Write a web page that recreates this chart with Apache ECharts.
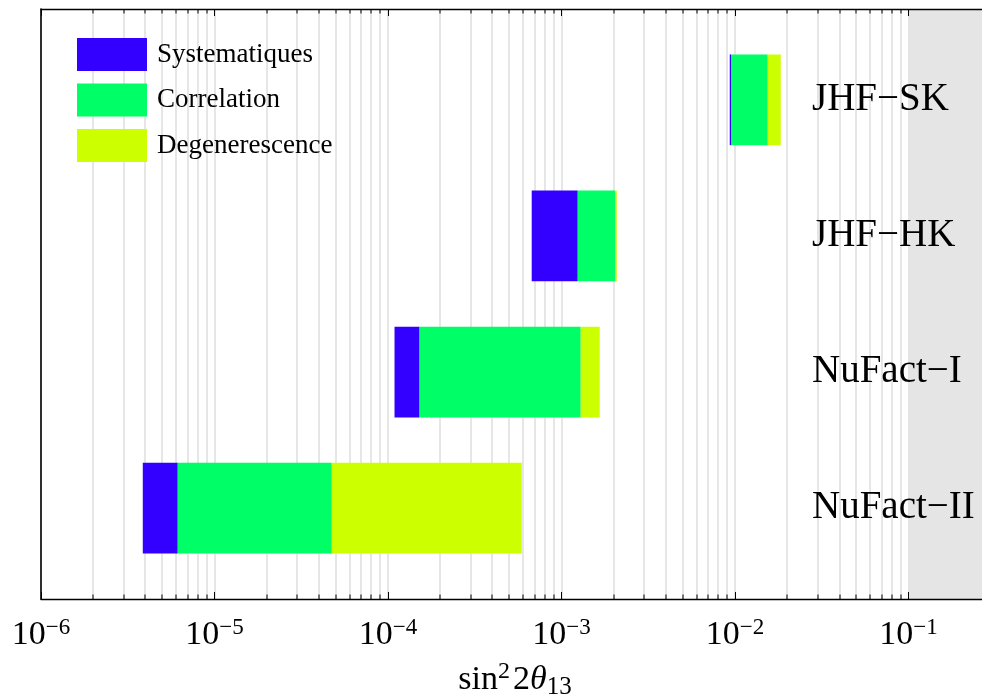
<!DOCTYPE html>
<html>
<head>
<meta charset="utf-8">
<script src="https://cdn.jsdelivr.net/npm/echarts@6/dist/echarts.min.js"></script>
<style>html,body{margin:0;padding:0;background:#fff}#c{width:982px;height:700px}</style>
</head>
<body>
<div id="c"></div>
<script>
// ---- data ----
const experiments = ['NuFact−II', 'NuFact−I', 'JHF−HK', 'JHF−SK'];
const positions = [1, 2, 3, 4];
const barStart = [3.86e-6, 1.09e-4, 6.73e-4, 9.32e-3];
const systEnd  = [6.14e-6, 1.52e-4, 1.24e-3, 9.48e-3];
const corrEnd  = [4.74e-5, 1.29e-3, 2.045e-3, 1.543e-2];
const degenEnd = [5.90e-4, 1.66e-3, 2.08e-3, 1.834e-2];
const seriesNames = ['Systematiques', 'Correlation', 'Degenerescence'];
const seriesColors = ['#3300ff', '#00ff66', '#ccff00'];
const tickExponents = [-6, -5, -4, -3, -2, -1];
const minorMultipliers = [2, 3, 4, 5, 6, 7, 8, 9];
const shadedFrom = [0.1];
const xMin = 1e-6, xMax = 0.265;
const yMin = 1 / 3, yMax = 14 / 3;
const barHeight = 2 / 3;

const FONT = "'Liberation Serif', 'Times New Roman', 'DejaVu Serif', serif";

const gridValues = [];
tickExponents.forEach(e => {
  gridValues.push([Math.pow(10, e), 1]);
  minorMultipliers.forEach(m => { const v = m * Math.pow(10, e); if (v < xMax) gridValues.push([v, 0]); });
});

function seg(a, b) { return positions.map((p, i) => [a[i], b[i], p]); }
const segData = [seg(barStart, systEnd), seg(systEnd, corrEnd), seg(corrEnd, degenEnd)];

function barRender(params, api) {
  const y = api.value(2);
  const p0 = api.coord([api.value(0), y + barHeight / 2]);
  const p1 = api.coord([api.value(1), y - barHeight / 2]);
  return { type: 'rect', shape: { x: p0[0], y: p0[1], width: p1[0] - p0[0], height: p1[1] - p0[1] },
           style: { fill: api.visual('color') } };
}

const chart = echarts.init(document.getElementById('c'));
const xAxisBase = {
  type: 'log', logBase: 10, min: xMin, max: xMax, z: 10,
  axisLine: { show: true, lineStyle: { color: '#000', width: 1.3 } },
  axisTick: { show: true, inside: true, length: 7, lineStyle: { color: '#000', width: 1 } },
  splitLine: { show: false }, minorTick: { show: false }
};
chart.setOption({
  animation: false,
  backgroundColor: '#fff',
  grid: { left: 41, right: 0, top: 9, bottom: 101, outerBoundsMode: 'none', containLabel: false },
  legend: {
    data: seriesNames, orient: 'vertical', left: 77, top: 38, icon: 'rect', padding: 0,
    itemWidth: 70, itemHeight: 33, itemGap: 12.5,
    textStyle: { fontFamily: FONT, fontSize: 27, color: '#000', padding: [0, 0, 0, 5] }
  },
  xAxis: [
    Object.assign({}, xAxisBase, {
      position: 'bottom',
      name: '{a|sin}{s|2}{a|2}{i|θ}{u|13}', nameLocation: 'middle', nameGap: 61,
      nameTextStyle: { padding: [0, 0, 0, 7], rich: {
        a: { fontFamily: FONT, fontSize: 34, color: '#000', lineHeight: 40 },
        s: { fontFamily: FONT, fontSize: 24, color: '#000', lineHeight: 26, verticalAlign: 'top', padding: [0, 3, 0, 0] },
        i: { fontFamily: FONT, fontSize: 34, color: '#000', fontStyle: 'italic', lineHeight: 40 },
        u: { fontFamily: FONT, fontSize: 25, color: '#000', lineHeight: 22, verticalAlign: 'bottom' }
      } },
      axisLabel: {
        margin: 17, showMaxLabel: false,
        formatter: v => { const e = Math.round(Math.log10(v)); return tickExponents.indexOf(e) >= 0 ? '{b|10}{s|−' + (-e) + '}' : ''; },
        rich: {
          b: { fontFamily: FONT, fontSize: 34, color: '#000', lineHeight: 38 },
          s: { fontFamily: FONT, fontSize: 23, color: '#000', lineHeight: 24, verticalAlign: 'top' }
        }
      }
    }),
    Object.assign({}, xAxisBase, { position: 'top', axisLabel: { show: false } })
  ],
  yAxis: [
    { type: 'value', min: yMin, max: yMax, position: 'left', z: 10,
      axisLine: { show: true, lineStyle: { color: '#000', width: 1.6 } },
      axisTick: { show: false }, axisLabel: { show: false }, splitLine: { show: false } },
    { type: 'value', min: yMin, max: yMax, position: 'right', z: 10,
      axisLine: { show: false }, axisTick: { show: false }, splitLine: { show: false },
      axisLabel: { inside: true, align: 'left', margin: 170, customValues: positions,
        formatter: v => experiments[positions.indexOf(Math.round(v))] || '',
        fontFamily: FONT, fontSize: 39, color: '#000' } }
  ],
  series: [
    { type: 'custom', name: 'grid', z: 1, silent: true, data: gridValues, encode: { x: 0 },
      renderItem: (params, api) => {
        const cs = params.coordSys;
        const x = Math.round(api.coord([api.value(0), 1])[0]);
        const children = [{ type: 'line', shape: { x1: x, y1: cs.y, x2: x, y2: cs.y + cs.height },
          style: { stroke: '#e6e6e6', lineWidth: 2 } }];
        if (api.value(1) === 0) {
          children.push({ type: 'line', shape: { x1: x, y1: cs.y + cs.height, x2: x, y2: cs.y + cs.height - 4.5 }, style: { stroke: '#000', lineWidth: 1 }, z2: 5 });
          children.push({ type: 'line', shape: { x1: x, y1: cs.y, x2: x, y2: cs.y + 4.5 }, style: { stroke: '#000', lineWidth: 1 }, z2: 5 });
        }
        return { type: 'group', children };
      } },
    { type: 'custom', name: 'shade', z: 2, silent: true, data: shadedFrom.map(v => [v]), encode: { x: 0 },
      renderItem: (params, api) => {
        const cs = params.coordSys;
        const x = api.coord([api.value(0), 1])[0];
        return { type: 'rect', shape: { x: x, y: cs.y, width: cs.x + cs.width - x, height: cs.height },
                 style: { fill: '#e5e5e5' } };
      } },
    ...seriesNames.map((n, k) => ({
      type: 'custom', name: n, z: 3, data: segData[k], encode: { x: [0, 1], y: 2 },
      itemStyle: { color: seriesColors[k] }, renderItem: barRender
    }))
  ]
});
</script>
</body>
</html>
